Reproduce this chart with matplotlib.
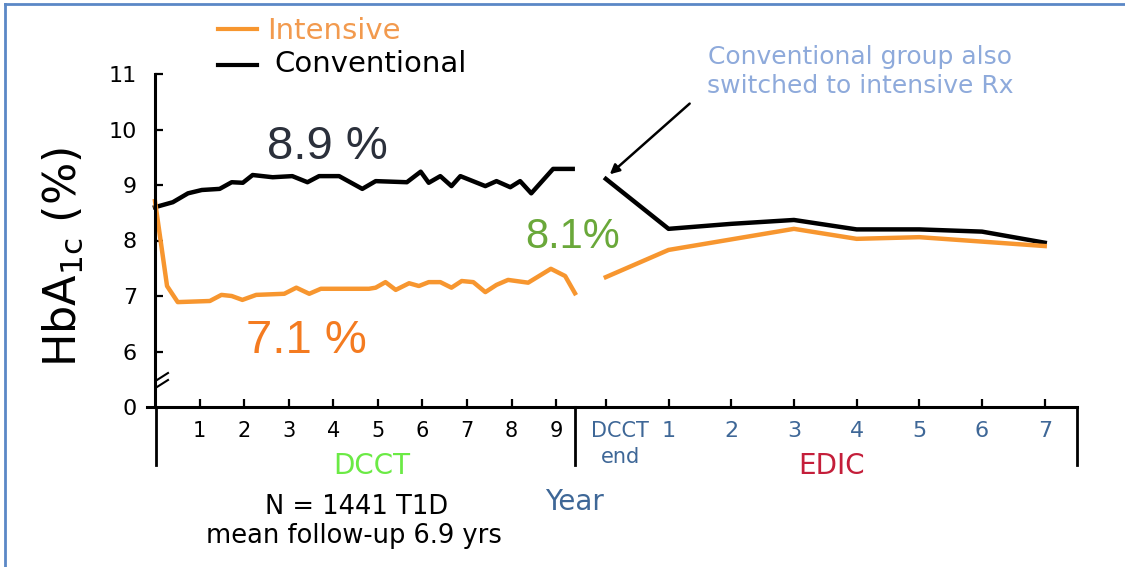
import matplotlib
matplotlib.use('Agg')
import matplotlib.pyplot as plt
from matplotlib.lines import Line2D

plt.rcParams['font.family'] = 'DejaVu Sans'
plt.rcParams['mathtext.default'] = 'regular'

# DCCT phase (years since randomisation), HbA1c %
dcct_years_conv = [0, 0.4, 0.74, 1.05, 1.45, 1.72, 1.97, 2.19, 2.64, 3.08, 3.42, 3.68, 4.13,
                   4.65, 4.95, 5.65, 5.96, 6.14, 6.4, 6.65, 6.85, 7.41, 7.66, 7.97, 8.19,
                   8.44, 8.93, 9.37]
dcct_conv = [8.6, 8.69, 8.85, 8.91, 8.93, 9.05, 9.04, 9.18, 9.14, 9.16, 9.05, 9.16, 9.16,
             8.93, 9.07, 9.05, 9.24, 9.04, 9.16, 8.98, 9.16, 8.98, 9.07, 8.96, 9.07,
             8.85, 9.29, 9.29]
dcct_years_int = [0, 0.27, 0.51, 1.23, 1.49, 1.72, 1.96, 2.27, 2.9, 3.17, 3.46, 3.72, 4.8,
                  4.95, 5.17, 5.4, 5.7, 5.92, 6.14, 6.4, 6.65, 6.88, 7.14, 7.41, 7.66,
                  7.92, 8.37, 8.88, 9.2, 9.42]
dcct_int = [8.71, 7.18, 6.89, 6.91, 7.02, 7.0, 6.93, 7.02, 7.04, 7.15, 7.04, 7.13, 7.13,
            7.15, 7.25, 7.11, 7.23, 7.18, 7.25, 7.25, 7.15, 7.27, 7.25, 7.07, 7.2,
            7.29, 7.24, 7.49, 7.36, 7.05]

# EDIC phase (years after DCCT end)
edic_years = [0, 1, 2, 3, 4, 5, 6, 7]
edic_conv = [9.11, 8.21, 8.3, 8.37, 8.2, 8.2, 8.16, 7.96]
edic_int = [7.34, 7.83, 8.02, 8.21, 8.03, 8.06, 7.98, 7.9]

dcct_ticks = [1, 2, 3, 4, 5, 6, 7, 8, 9]
edic_ticks = [0, 1, 2, 3, 4, 5, 6, 7]
edic_labels = ['', '1', '2', '3', '4', '5', '6', '7']
y_ticks = [5, 6, 7, 8, 9, 10, 11]
y_labels = ['0', '6', '7', '8', '9', '10', '11']

ORANGE = '#F7962F'
BLUE = '#3e6797'

W, H = 1125, 567
fig = plt.figure(figsize=(W / 100, H / 100), dpi=100)


def fx(px):
    return px / W


def fy(py):
    return 1 - py / H


bottom, height = fy(407), fy(74) - fy(407)
ax1 = fig.add_axes([fx(155), bottom, fx(574.5) - fx(155), height])
ax2 = fig.add_axes([fx(574.5), bottom, fx(1076.7) - fx(574.5), height])
ax1.set_xlim(0, 9.41)
ax2.set_xlim(-0.5, 7.51)
for ax in (ax1, ax2):
    ax.set_ylim(5, 11)
    ax.patch.set_visible(False)
    for s in ['top', 'right', 'left']:
        ax.spines[s].set_visible(False)
    ax.spines['bottom'].set_linewidth(2.2)
ax1.spines['left'].set_visible(True)
ax1.spines['left'].set_linewidth(2.2)

ax1.plot(dcct_years_conv, dcct_conv, color='black', lw=3.2, clip_on=False)
ax1.plot(dcct_years_int, dcct_int, color=ORANGE, lw=3.2, clip_on=False)
ax2.plot(edic_years, edic_conv, color='black', lw=3.2, clip_on=False)
ax2.plot(edic_years, edic_int, color=ORANGE, lw=3.2, clip_on=False)

ax1.set_yticks(y_ticks)
ax1.set_yticklabels(y_labels)
ax1.tick_params(axis='y', direction='in', length=6, width=1.6, labelsize=16, pad=13)
ax1.yaxis.get_major_ticks()[0].tick1line.set_visible(False)
ax1.set_xticks(dcct_ticks)
ax1.tick_params(axis='x', direction='in', length=6, width=1.6, labelsize=15, pad=10)
ax2.set_yticks([])
ax2.set_xticks(edic_ticks)
ax2.set_xticklabels(edic_labels)
ax2.tick_params(axis='x', direction='in', length=6, width=1.6, labelsize=16,
                pad=10, labelcolor=BLUE)

# lines below the axis, axis stub and break marks
for px in (156, 574.5, 1076.7):
    fig.add_artist(Line2D([fx(px), fx(px)], [fy(407), fy(465)], color='black', lw=2))
fig.add_artist(Line2D([fx(147), fx(156)], [fy(407), fy(407)], color='black', lw=2.2))
fig.add_artist(Line2D([fx(157), fx(168)], [fy(380), fy(373)], color='black', lw=1.5))
fig.add_artist(Line2D([fx(157), fx(168)], [fy(387), fy(380)], color='black', lw=1.5))

# frame
fig.add_artist(Line2D([fx(5), fx(1125)], [fy(4), fy(4)], color='#5b88c6', lw=2))
fig.add_artist(Line2D([fx(5), fx(5)], [fy(4), fy(567)], color='#5b88c6', lw=2))

# legend
fig.add_artist(Line2D([fx(218), fx(257)], [fy(29), fy(29)], color=ORANGE, lw=3))
fig.add_artist(Line2D([fx(218), fx(257)], [fy(65), fy(65)], color='black', lw=3))
fig.text(fx(267), fy(39), 'Intensive', color='#F29A4E', fontsize=21, va='baseline')
fig.text(fx(274), fy(72), 'Conventional', color='black', fontsize=21, va='baseline')

# value labels
big = dict(family='Liberation Sans', ha='center', va='baseline')
fig.text(fx(327), fy(159), '8.9 %', color='#2b303b', fontsize=34, **big)
fig.text(fx(306), fy(353), '7.1 %', color='#F47B20', fontsize=34, **big)
fig.text(fx(573), fy(248), '8.1%', color='#6aa83a', fontsize=30, **big)

fig.text(fx(860), fy(64), 'Conventional group also', color='#8eaadb', fontsize=18,
         ha='center', va='baseline')
fig.text(fx(860), fy(93), 'switched to intensive Rx', color='#8eaadb', fontsize=18,
         ha='center', va='baseline')
ax2.annotate('', xy=(0.03, 9.16), xytext=(1.37, 10.5),
             arrowprops=dict(arrowstyle='-|>', color='black', lw=1.8, mutation_scale=14),
             annotation_clip=False)

fig.text(fx(63), fy(257), r'HbA$_{1c}$ (%)', fontsize=32, rotation=90,
         ha='center', va='center')

fig.text(fx(620), fy(431), 'DCCT', color=BLUE, fontsize=15, ha='center', va='center')
fig.text(fx(620), fy(457), 'end', color=BLUE, fontsize=15, ha='center', va='center')
fig.text(fx(372), fy(474), 'DCCT', color='#6BEA45', fontsize=20, ha='center', va='baseline')
fig.text(fx(832), fy(474), 'EDIC', color='#c41e3a', fontsize=20, ha='center', va='baseline')
fig.text(fx(574), fy(510), 'Year', color=BLUE, fontsize=20, ha='center', va='baseline')
fig.text(fx(357), fy(514), 'N = 1441 T1D', color='black', fontsize=18.5, ha='center',
         va='baseline')
fig.text(fx(354), fy(543), 'mean follow-up 6.9 yrs', color='black', fontsize=18.5,
         ha='center', va='baseline')

fig.savefig('out.png', dpi=100)
